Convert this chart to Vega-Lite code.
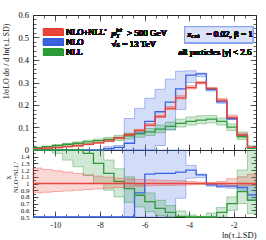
{
  "$schema": "https://vega.github.io/schema/vega-lite/v6.json",
  "width": 223,
  "height": 202,
  "autosize": {"type": "none"},
  "padding": {"left": 33, "top": 15, "right": 10, "bottom": 23},
  "config": {
    "view": {"stroke": null},
    "font": "Liberation Serif",
    "legend": {"disable": true},
    "axis": {"domain": false, "grid": false, "labelFont": "Liberation Serif", "labelColor": "#111", "tickColor": "#333", "tickWidth": 0.8, "domainColor": "#222", "domainWidth": 1, "titleFont": "Liberation Serif", "titleFontWeight": "normal", "titleColor": "#111", "labelOverlap": false, "labelBound": false, "labelFlush": false, "zindex": 1},
    "text": {"font": "Liberation Serif", "fontSize": 9, "color": "#111"}
  },
  "datasets": {
    "h": [
      {"s": "NLO", "x": -11.052, "v": -0.01, "lo": -0.03, "hi": -0.005, "r": -0.5, "rlo": -1, "rhi": -0.2},
      {"s": "NLO", "x": -10.592, "v": -0.01, "lo": -0.03, "hi": -0.005, "r": -0.5, "rlo": -1, "rhi": -0.2},
      {"s": "NLO", "x": -10.131, "v": -0.01, "lo": -0.03, "hi": -0.005, "r": -0.5, "rlo": -1, "rhi": -0.2},
      {"s": "NLO", "x": -9.671, "v": -0.01, "lo": -0.03, "hi": -0.005, "r": -0.5, "rlo": -1, "rhi": -0.2},
      {"s": "NLO", "x": -9.21, "v": -0.01, "lo": -0.03, "hi": -0.005, "r": -0.5, "rlo": -1, "rhi": -0.2},
      {"s": "NLO", "x": -8.75, "v": -0.01, "lo": -0.03, "hi": -0.005, "r": -0.5, "rlo": -1, "rhi": -0.2},
      {"s": "NLO", "x": -8.289, "v": -0.01, "lo": -0.03, "hi": -0.005, "r": -0.5, "rlo": -1, "rhi": -0.2},
      {"s": "NLO", "x": -7.829, "v": 0.006, "lo": -0.02, "hi": 0.015, "r": 0.15, "rlo": -0.5, "rhi": 0.37},
      {"s": "NLO", "x": -7.368, "v": 0.012, "lo": -0.03, "hi": 0.02, "r": 0.23, "rlo": -0.57, "rhi": 0.38},
      {"s": "NLO", "x": -6.908, "v": 0.03, "lo": -0.05, "hi": 0.14, "r": 0.44, "rlo": -0.74, "rhi": 2.06},
      {"s": "NLO", "x": -6.447, "v": 0.075, "lo": -0.05, "hi": 0.185, "r": 0.86, "rlo": -0.57, "rhi": 2.13},
      {"s": "NLO", "x": -5.987, "v": 0.127, "lo": -0.03, "hi": 0.23, "r": 1.14, "rlo": -0.27, "rhi": 2.07},
      {"s": "NLO", "x": -5.526, "v": 0.17, "lo": 0.02, "hi": 0.27, "r": 1.15, "rlo": 0.14, "rhi": 1.82},
      {"s": "NLO", "x": -5.066, "v": 0.213, "lo": 0.09, "hi": 0.315, "r": 1.15, "rlo": 0.49, "rhi": 1.7},
      {"s": "NLO", "x": -4.605, "v": 0.272, "lo": 0.18, "hi": 0.35, "r": 1.17, "rlo": 0.78, "rhi": 1.51},
      {"s": "NLO", "x": -4.145, "v": 0.333, "lo": 0.3, "hi": 0.352, "r": 1.2, "rlo": 1.08, "rhi": 1.27},
      {"s": "NLO", "x": -3.684, "v": 0.338, "lo": 0.326, "hi": 0.342, "r": 1.13, "rlo": 1.09, "rhi": 1.14},
      {"s": "NLO", "x": -3.224, "v": 0.268, "lo": 0.262, "hi": 0.273, "r": 0.98, "rlo": 0.96, "rhi": 1.0},
      {"s": "NLO", "x": -2.763, "v": 0.214, "lo": 0.208, "hi": 0.219, "r": 0.96, "rlo": 0.94, "rhi": 0.99},
      {"s": "NLO", "x": -2.303, "v": 0.139, "lo": 0.135, "hi": 0.145, "r": 0.96, "rlo": 0.93, "rhi": 1.0},
      {"s": "NLO", "x": -1.842, "v": 0.063, "lo": 0.06, "hi": 0.067, "r": 0.94, "rlo": 0.9, "rhi": 1.0},
      {"s": "NLO", "x": -1.382, "v": 0.01, "lo": 0.009, "hi": 0.012, "r": 0.83, "rlo": 0.75, "rhi": 1.0},
      {"s": "NLO", "x": -0.921, "v": 0.01, "lo": 0.009, "hi": 0.012, "r": 0.83, "rlo": 0.75, "rhi": 1.0},
      {"s": "NLL", "x": -11.052, "v": 0.01, "lo": 0.0085, "hi": 0.012, "r": 2.0, "rlo": 1.7, "rhi": 2.4},
      {"s": "NLL", "x": -10.592, "v": 0.015, "lo": 0.0128, "hi": 0.0176, "r": 1.9, "rlo": 1.6, "rhi": 2.2},
      {"s": "NLL", "x": -10.131, "v": 0.02, "lo": 0.016, "hi": 0.0231, "r": 1.8, "rlo": 1.45, "rhi": 2.1},
      {"s": "NLL", "x": -9.671, "v": 0.0255, "lo": 0.0203, "hi": 0.03, "r": 1.7, "rlo": 1.35, "rhi": 2.0},
      {"s": "NLL", "x": -9.21, "v": 0.03, "lo": 0.0238, "hi": 0.0361, "r": 1.6, "rlo": 1.25, "rhi": 1.9},
      {"s": "NLL", "x": -8.75, "v": 0.036, "lo": 0.028, "hi": 0.0425, "r": 1.45, "rlo": 1.12, "rhi": 1.7},
      {"s": "NLL", "x": -8.289, "v": 0.042, "lo": 0.032, "hi": 0.0486, "r": 1.3, "rlo": 1.0, "rhi": 1.52},
      {"s": "NLL", "x": -7.829, "v": 0.047, "lo": 0.0369, "hi": 0.0554, "r": 1.15, "rlo": 0.9, "rhi": 1.35},
      {"s": "NLL", "x": -7.368, "v": 0.055, "lo": 0.0424, "hi": 0.0647, "r": 1.03, "rlo": 0.8, "rhi": 1.22},
      {"s": "NLL", "x": -6.908, "v": 0.063, "lo": 0.049, "hi": 0.0748, "r": 0.925, "rlo": 0.72, "rhi": 1.1},
      {"s": "NLL", "x": -6.447, "v": 0.072, "lo": 0.0566, "hi": 0.0853, "r": 0.825, "rlo": 0.65, "rhi": 0.98},
      {"s": "NLL", "x": -5.987, "v": 0.081, "lo": 0.0644, "hi": 0.0955, "r": 0.73, "rlo": 0.58, "rhi": 0.86},
      {"s": "NLL", "x": -5.526, "v": 0.093, "lo": 0.077, "hi": 0.111, "r": 0.63, "rlo": 0.52, "rhi": 0.75},
      {"s": "NLL", "x": -5.066, "v": 0.105, "lo": 0.0888, "hi": 0.124, "r": 0.57, "rlo": 0.48, "rhi": 0.67},
      {"s": "NLL", "x": -4.605, "v": 0.118, "lo": 0.102, "hi": 0.137, "r": 0.51, "rlo": 0.44, "rhi": 0.59},
      {"s": "NLL", "x": -4.145, "v": 0.127, "lo": 0.111, "hi": 0.147, "r": 0.46, "rlo": 0.4, "rhi": 0.53},
      {"s": "NLL", "x": -3.684, "v": 0.133, "lo": 0.117, "hi": 0.152, "r": 0.445, "rlo": 0.39, "rhi": 0.51},
      {"s": "NLL", "x": -3.224, "v": 0.137, "lo": 0.121, "hi": 0.153, "r": 0.5, "rlo": 0.44, "rhi": 0.56},
      {"s": "NLL", "x": -2.763, "v": 0.127, "lo": 0.111, "hi": 0.142, "r": 0.57, "rlo": 0.5, "rhi": 0.64},
      {"s": "NLL", "x": -2.303, "v": 0.102, "lo": 0.087, "hi": 0.116, "r": 0.7, "rlo": 0.6, "rhi": 0.8},
      {"s": "NLL", "x": -1.842, "v": 0.059, "lo": 0.047, "hi": 0.08, "r": 0.88, "rlo": 0.7, "rhi": 1.2},
      {"s": "NLL", "x": -1.382, "v": 0.009, "lo": 0.0066, "hi": 0.0192, "r": 0.75, "rlo": 0.55, "rhi": 1.6},
      {"s": "NLL", "x": -0.921, "v": 0.009, "lo": 0.0066, "hi": 0.0192, "r": 0.75, "rlo": 0.55, "rhi": 1.6},
      {"s": "NLO+NLL'", "x": -11.052, "v": 0.005, "lo": 0.0043, "hi": 0.0062, "r": 1, "rlo": 0.86, "rhi": 1.23},
      {"s": "NLO+NLL'", "x": -10.592, "v": 0.008, "lo": 0.007, "hi": 0.0097, "r": 1, "rlo": 0.87, "rhi": 1.21},
      {"s": "NLO+NLL'", "x": -10.131, "v": 0.011, "lo": 0.0097, "hi": 0.0131, "r": 1, "rlo": 0.88, "rhi": 1.19},
      {"s": "NLO+NLL'", "x": -9.671, "v": 0.015, "lo": 0.0134, "hi": 0.0176, "r": 1, "rlo": 0.89, "rhi": 1.17},
      {"s": "NLO+NLL'", "x": -9.21, "v": 0.019, "lo": 0.0171, "hi": 0.0219, "r": 1, "rlo": 0.9, "rhi": 1.15},
      {"s": "NLO+NLL'", "x": -8.75, "v": 0.025, "lo": 0.0228, "hi": 0.0283, "r": 1, "rlo": 0.91, "rhi": 1.13},
      {"s": "NLO+NLL'", "x": -8.289, "v": 0.032, "lo": 0.0294, "hi": 0.0355, "r": 1, "rlo": 0.92, "rhi": 1.11},
      {"s": "NLO+NLL'", "x": -7.829, "v": 0.041, "lo": 0.0381, "hi": 0.0449, "r": 1, "rlo": 0.93, "rhi": 1.095},
      {"s": "NLO+NLL'", "x": -7.368, "v": 0.053, "lo": 0.0498, "hi": 0.0572, "r": 1, "rlo": 0.94, "rhi": 1.08},
      {"s": "NLO+NLL'", "x": -6.908, "v": 0.068, "lo": 0.0646, "hi": 0.0728, "r": 1, "rlo": 0.95, "rhi": 1.07},
      {"s": "NLO+NLL'", "x": -6.447, "v": 0.087, "lo": 0.0835, "hi": 0.0922, "r": 1, "rlo": 0.96, "rhi": 1.06},
      {"s": "NLO+NLL'", "x": -5.987, "v": 0.111, "lo": 0.1071, "hi": 0.1171, "r": 1, "rlo": 0.965, "rhi": 1.055},
      {"s": "NLO+NLL'", "x": -5.526, "v": 0.148, "lo": 0.1436, "hi": 0.1554, "r": 1, "rlo": 0.97, "rhi": 1.05},
      {"s": "NLO+NLL'", "x": -5.066, "v": 0.185, "lo": 0.1795, "hi": 0.1933, "r": 1, "rlo": 0.97, "rhi": 1.045},
      {"s": "NLO+NLL'", "x": -4.605, "v": 0.232, "lo": 0.2262, "hi": 0.2413, "r": 1, "rlo": 0.975, "rhi": 1.04},
      {"s": "NLO+NLL'", "x": -4.145, "v": 0.277, "lo": 0.2715, "hi": 0.2853, "r": 1, "rlo": 0.98, "rhi": 1.03},
      {"s": "NLO+NLL'", "x": -3.684, "v": 0.299, "lo": 0.2945, "hi": 0.305, "r": 1, "rlo": 0.985, "rhi": 1.02},
      {"s": "NLO+NLL'", "x": -3.224, "v": 0.274, "lo": 0.2713, "hi": 0.2781, "r": 1, "rlo": 0.99, "rhi": 1.015},
      {"s": "NLO+NLL'", "x": -2.763, "v": 0.222, "lo": 0.2176, "hi": 0.2287, "r": 1, "rlo": 0.98, "rhi": 1.03},
      {"s": "NLO+NLL'", "x": -2.303, "v": 0.145, "lo": 0.1407, "hi": 0.1552, "r": 1, "rlo": 0.97, "rhi": 1.07},
      {"s": "NLO+NLL'", "x": -1.842, "v": 0.067, "lo": 0.065, "hi": 0.0737, "r": 1, "rlo": 0.97, "rhi": 1.1},
      {"s": "NLO+NLL'", "x": -1.382, "v": 0.012, "lo": 0.0116, "hi": 0.0137, "r": 1, "rlo": 0.97, "rhi": 1.14},
      {"s": "NLO+NLL'", "x": -0.921, "v": 0.012, "lo": 0.0116, "hi": 0.0137, "r": 1, "rlo": 0.97, "rhi": 1.14}
    ]
  },
  "data": {"name": "h"},
  "resolve": {"scale": {"y": "independent"}, "axis": {"x": "independent", "y": "independent"}},
  "layer": [
    {
      "resolve": {"axis": {"x": "independent", "y": "independent"}},
      "layer": [
        {
          "transform": [{"filter": {"field": "s", "equal": "NLO"}}],
          "mark": {"type": "area", "interpolate": "step-after", "fillOpacity": 0.22, "strokeOpacity": 0.5, "strokeWidth": 0.8},
          "encoding": {
            "x": {"field": "x", "type": "quantitative", "scale": {"domain": [-11, -1], "nice": false, "zero": false, "clamp": true},
              "axis": {"orient": "bottom", "offset": -67, "values": [-10, -8, -6, -4, -2], "labels": false, "title": null, "tickSize": -6, "domain": true}},
            "y": {"field": "lo", "type": "quantitative", "scale": {"domain": [0, 0.6], "range": [135, 0], "nice": false, "zero": false, "clamp": true},
              "axis": {"orient": "left", "values": [0, 0.1, 0.2, 0.3, 0.4, 0.5, 0.6], "labels": false, "title": null, "tickSize": -6, "domain": true}},
            "y2": {"field": "hi"},
            "color": {"field": "s", "type": "nominal", "scale": {"domain": ["NLO+NLL'", "NLO", "NLL"], "range": ["#e8463c", "#3c62de", "#2e9a3b"]}},
            "stroke": {"field": "s", "type": "nominal", "scale": {"domain": ["NLO+NLL'", "NLO", "NLL"], "range": ["#e8463c", "#3c62de", "#2e9a3b"]}}
          }
        },
        {
          "transform": [{"filter": {"field": "s", "equal": "NLL"}}],
          "mark": {"type": "area", "interpolate": "step-after", "fillOpacity": 0.22, "strokeOpacity": 0.5, "strokeWidth": 0.8},
          "encoding": {
            "x": {"field": "x", "type": "quantitative",
              "axis": {"orient": "bottom", "offset": -67, "values": [-11,-10.5,-10,-9.5,-9,-8.5,-8,-7.5,-7,-6.5,-6,-5.5,-5,-4.5,-4,-3.5,-3,-2.5,-2,-1.5,-1], "labels": false, "title": null, "tickSize": -3}},
            "y": {"field": "lo", "type": "quantitative",
              "axis": {"orient": "left", "values": [0, 0.1, 0.2, 0.3, 0.4, 0.5, 0.6], "labels": false, "ticks": false,
                "title": "1/σLO dσ / d ln(τ⊥SD)", "titleFontSize": 8, "titleX": -23, "titleY": 46}},
            "y2": {"field": "hi"},
            "color": {"field": "s", "type": "nominal"},
            "stroke": {"field": "s", "type": "nominal"}
          }
        },
        {
          "transform": [{"filter": {"not": {"field": "s", "equal": "NLO+NLL'"}}}],
          "mark": {"type": "line", "interpolate": "step-after", "strokeWidth": 1.3},
          "encoding": {
            "x": {"field": "x", "type": "quantitative",
              "axis": {"orient": "top", "values": [-10, -8, -6, -4, -2], "labels": false, "title": null, "tickSize": -6, "domain": true}},
            "y": {"field": "v", "type": "quantitative",
              "axis": {"orient": "left", "values": [0,0.02,0.04,0.06,0.08,0.1,0.12,0.14,0.16,0.18,0.2,0.22,0.24,0.26,0.28,0.3,0.32,0.34,0.36,0.38,0.4,0.42,0.44,0.46,0.48,0.5,0.52,0.54,0.56,0.58,0.6], "labels": false, "title": null, "tickSize": -3}},
            "color": {"field": "s", "type": "nominal"}
          }
        },
        {
          "transform": [{"filter": {"field": "s", "equal": "NLO+NLL'"}}],
          "mark": {"type": "area", "interpolate": "step-after", "fillOpacity": 0.22, "strokeOpacity": 0.5, "strokeWidth": 0.8},
          "encoding": {
            "x": {"field": "x", "type": "quantitative",
              "axis": {"orient": "top", "values": [-11,-10.5,-10,-9.5,-9,-8.5,-8,-7.5,-7,-6.5,-6,-5.5,-5,-4.5,-4,-3.5,-3,-2.5,-2,-1.5,-1], "labels": false, "title": null, "tickSize": -3}},
            "y": {"field": "lo", "type": "quantitative",
              "axis": {"orient": "right", "values": [0, 0.1, 0.2, 0.3, 0.4, 0.5, 0.6], "labels": false, "title": null, "tickSize": -6, "domain": true}},
            "y2": {"field": "hi"},
            "color": {"field": "s", "type": "nominal"},
            "stroke": {"field": "s", "type": "nominal"}
          }
        },
        {
          "transform": [{"filter": {"field": "s", "equal": "NLO+NLL'"}}],
          "mark": {"type": "line", "interpolate": "step-after", "strokeWidth": 1.3},
          "encoding": {
            "x": {"field": "x", "type": "quantitative", "axis": null},
            "y": {"field": "v", "type": "quantitative",
              "axis": {"orient": "right", "values": [0,0.02,0.04,0.06,0.08,0.1,0.12,0.14,0.16,0.18,0.2,0.22,0.24,0.26,0.28,0.3,0.32,0.34,0.36,0.38,0.4,0.42,0.44,0.46,0.48,0.5,0.52,0.54,0.56,0.58,0.6], "labels": false, "title": null, "tickSize": -3}},
            "color": {"field": "s", "type": "nominal"}
          }
        }
      ]
    },
    {
      "resolve": {"axis": {"x": "independent", "y": "independent"}},
      "layer": [
        {
          "transform": [{"filter": {"field": "s", "equal": "NLO"}}],
          "mark": {"type": "area", "interpolate": "step-after", "fillOpacity": 0.22, "strokeOpacity": 0.5, "strokeWidth": 0.8},
          "encoding": {
            "x": {"field": "x", "type": "quantitative",
              "axis": {"orient": "bottom", "values": [-10, -8, -6, -4, -2], "labelExpr": "'' + datum.value", "ticks": false, "labelPadding": 4, "labelFontSize": 8,
                "title": "ln(τ⊥SD)", "titleFontSize": 8.5, "titleX": 223, "titleAlign": "right", "titleY": 13, "titleBaseline": "top"}},
            "y": {"field": "rlo", "type": "quantitative", "scale": {"domain": [0.5, 1.5], "range": [202, 135], "nice": false, "zero": false, "clamp": true},
              "axis": {"orient": "left", "values": [0.5, 0.6, 0.7, 0.8, 0.9, 1, 1.1, 1.2, 1.3, 1.4], "format": ".1~f", "ticks": false, "labelPadding": 4, "labelFontSize": 7,
                "title": ["X", "NLO+NLL'"], "titleFontSize": 6.5, "titleLineHeight": 7, "titleX": -22, "titleY": 162}},
            "y2": {"field": "rhi"},
            "color": {"field": "s", "type": "nominal"},
            "stroke": {"field": "s", "type": "nominal"}
          }
        },
        {
          "transform": [{"filter": {"field": "s", "equal": "NLL"}}],
          "mark": {"type": "area", "interpolate": "step-after", "fillOpacity": 0.22, "strokeOpacity": 0.5, "strokeWidth": 0.8},
          "encoding": {
            "x": {"field": "x", "type": "quantitative",
              "axis": {"orient": "bottom", "values": [-10, -8, -6, -4, -2], "labels": false, "title": null, "tickSize": -6, "domain": true}},
            "y": {"field": "rlo", "type": "quantitative",
              "axis": {"orient": "left", "values": [0.5, 0.6, 0.7, 0.8, 0.9, 1, 1.1, 1.2, 1.3, 1.4, 1.5], "labels": false, "title": null, "tickSize": -5, "domain": true}},
            "y2": {"field": "rhi"},
            "color": {"field": "s", "type": "nominal"},
            "stroke": {"field": "s", "type": "nominal"}
          }
        },
        {
          "transform": [{"filter": {"not": {"field": "s", "equal": "NLO+NLL'"}}}],
          "mark": {"type": "line", "interpolate": "step-after", "strokeWidth": 1.3},
          "encoding": {
            "x": {"field": "x", "type": "quantitative",
              "axis": {"orient": "bottom", "values": [-11,-10.5,-10,-9.5,-9,-8.5,-8,-7.5,-7,-6.5,-6,-5.5,-5,-4.5,-4,-3.5,-3,-2.5,-2,-1.5,-1], "labels": false, "title": null, "tickSize": -3}},
            "y": {"field": "r", "type": "quantitative",
              "axis": {"orient": "left", "values": [0.5,0.55,0.6,0.65,0.7,0.75,0.8,0.85,0.9,0.95,1,1.05,1.1,1.15,1.2,1.25,1.3,1.35,1.4,1.45,1.5], "labels": false, "title": null, "tickSize": -2.5}},
            "color": {"field": "s", "type": "nominal"}
          }
        },
        {
          "transform": [{"filter": {"field": "s", "equal": "NLO+NLL'"}}],
          "mark": {"type": "area", "interpolate": "step-after", "fillOpacity": 0.22, "strokeOpacity": 0.5, "strokeWidth": 0.8},
          "encoding": {
            "x": {"field": "x", "type": "quantitative",
              "axis": {"orient": "top", "offset": -135, "values": [-10, -8, -6, -4, -2], "labels": false, "title": null, "tickSize": -6}},
            "y": {"field": "rlo", "type": "quantitative",
              "axis": {"orient": "right", "values": [0.5, 0.6, 0.7, 0.8, 0.9, 1, 1.1, 1.2, 1.3, 1.4, 1.5], "labels": false, "title": null, "tickSize": -5, "domain": true}},
            "y2": {"field": "rhi"},
            "color": {"field": "s", "type": "nominal"},
            "stroke": {"field": "s", "type": "nominal"}
          }
        },
        {
          "transform": [{"filter": {"field": "s", "equal": "NLO+NLL'"}}],
          "mark": {"type": "line", "interpolate": "step-after", "strokeWidth": 1.3},
          "encoding": {
            "x": {"field": "x", "type": "quantitative",
              "axis": {"orient": "top", "offset": -135, "values": [-11,-10.5,-10,-9.5,-9,-8.5,-8,-7.5,-7,-6.5,-6,-5.5,-5,-4.5,-4,-3.5,-3,-2.5,-2,-1.5,-1], "labels": false, "title": null, "tickSize": -3}},
            "y": {"field": "r", "type": "quantitative",
              "axis": {"orient": "right", "values": [0.5,0.55,0.6,0.65,0.7,0.75,0.8,0.85,0.9,0.95,1,1.05,1.1,1.15,1.2,1.25,1.3,1.35,1.4,1.45,1.5], "labels": false, "title": null, "tickSize": -2.5}},
            "color": {"field": "s", "type": "nominal"}
          }
        }
      ]
    },
    {
      "layer": [
        {
          "mark": {"type": "rect", "fill": "#e8463c", "fillOpacity": 0.2, "stroke": "#e8463c", "strokeOpacity": 0.3, "strokeWidth": 0.7},
          "encoding": {"x": {"datum": -10.53, "type": "quantitative", "axis": null}, "x2": {"datum": -9.65},
            "y": {"datum": 0.509, "type": "quantitative", "axis": null, "scale": {"domain": [0, 0.6], "range": [135, 0], "nice": false, "zero": false}}, "y2": {"datum": 0.537}}
        },
        {
          "mark": {"type": "rule", "color": "#e8463c", "strokeWidth": 1.2},
          "encoding": {"x": {"datum": -10.53, "type": "quantitative", "axis": null}, "x2": {"datum": -9.65}, "y": {"datum": 0.523, "type": "quantitative", "axis": null}}
        },
        {
          "mark": {"type": "text", "align": "left", "baseline": "middle", "fontSize": 8.5},
          "encoding": {"x": {"datum": -9.52, "type": "quantitative", "axis": null}, "y": {"datum": 0.523, "type": "quantitative", "axis": null}, "text": {"value": "NLO+NLL'"}}
        },
        {
          "mark": {"type": "rect", "fill": "#3c62de", "fillOpacity": 0.2, "stroke": "#3c62de", "strokeOpacity": 0.3, "strokeWidth": 0.7},
          "encoding": {"x": {"datum": -10.53, "type": "quantitative", "axis": null}, "x2": {"datum": -9.65}, "y": {"datum": 0.465, "type": "quantitative", "axis": null}, "y2": {"datum": 0.493}}
        },
        {
          "mark": {"type": "rule", "color": "#3c62de", "strokeWidth": 1.2},
          "encoding": {"x": {"datum": -10.53, "type": "quantitative", "axis": null}, "x2": {"datum": -9.65}, "y": {"datum": 0.479, "type": "quantitative", "axis": null}}
        },
        {
          "mark": {"type": "text", "align": "left", "baseline": "middle", "fontSize": 8.5},
          "encoding": {"x": {"datum": -9.52, "type": "quantitative", "axis": null}, "y": {"datum": 0.479, "type": "quantitative", "axis": null}, "text": {"value": "NLO"}}
        },
        {
          "mark": {"type": "rect", "fill": "#2e9a3b", "fillOpacity": 0.2, "stroke": "#2e9a3b", "strokeOpacity": 0.3, "strokeWidth": 0.7},
          "encoding": {"x": {"datum": -10.53, "type": "quantitative", "axis": null}, "x2": {"datum": -9.65}, "y": {"datum": 0.42, "type": "quantitative", "axis": null}, "y2": {"datum": 0.448}}
        },
        {
          "mark": {"type": "rule", "color": "#2e9a3b", "strokeWidth": 1.2},
          "encoding": {"x": {"datum": -10.53, "type": "quantitative", "axis": null}, "x2": {"datum": -9.65}, "y": {"datum": 0.434, "type": "quantitative", "axis": null}}
        },
        {
          "mark": {"type": "text", "align": "left", "baseline": "middle", "fontSize": 8.5},
          "encoding": {"x": {"datum": -9.52, "type": "quantitative", "axis": null}, "y": {"datum": 0.434, "type": "quantitative", "axis": null}, "text": {"value": "NLL"}}
        },
        {
          "mark": {"type": "text", "align": "left", "baseline": "middle", "fontStyle": "italic"},
          "encoding": {"x": {"datum": -7.48, "type": "quantitative", "axis": null}, "y": {"datum": 0.518, "type": "quantitative", "axis": null}, "text": {"value": "p"}}
        },
        {
          "mark": {"type": "text", "align": "left", "baseline": "middle", "fontSize": 6, "dx": 4.5, "dy": 2.5},
          "encoding": {"x": {"datum": -7.48, "type": "quantitative", "axis": null}, "y": {"datum": 0.518, "type": "quantitative", "axis": null}, "text": {"value": "T"}}
        },
        {
          "mark": {"type": "text", "align": "left", "baseline": "middle", "fontSize": 6, "fontStyle": "italic", "dx": 4.5, "dy": -3.5},
          "encoding": {"x": {"datum": -7.48, "type": "quantitative", "axis": null}, "y": {"datum": 0.518, "type": "quantitative", "axis": null}, "text": {"value": "jet"}}
        },
        {
          "mark": {"type": "text", "align": "left", "baseline": "middle", "dx": 15.5},
          "encoding": {"x": {"datum": -7.48, "type": "quantitative", "axis": null}, "y": {"datum": 0.518, "type": "quantitative", "axis": null}, "text": {"value": "> 500 GeV"}}
        },
        {
          "mark": {"type": "text", "align": "left", "baseline": "middle"},
          "encoding": {"x": {"datum": -7.48, "type": "quantitative", "axis": null}, "y": {"datum": 0.469, "type": "quantitative", "axis": null}, "text": {"value": "√s = 13 TeV"}}
        },
        {
          "mark": {"type": "rect", "fill": "#dce3f8", "stroke": "#86a0ee", "strokeWidth": 1},
          "encoding": {"x": {"datum": -4.197, "type": "quantitative", "axis": null}, "x2": {"datum": -1.135}, "y": {"datum": 0.477, "type": "quantitative", "axis": null}, "y2": {"datum": 0.548}}
        },
        {
          "mark": {"type": "text", "align": "left", "baseline": "middle", "fontStyle": "italic"},
          "encoding": {"x": {"datum": -4.07, "type": "quantitative", "axis": null}, "y": {"datum": 0.514, "type": "quantitative", "axis": null}, "text": {"value": "z"}}
        },
        {
          "mark": {"type": "text", "align": "left", "baseline": "middle", "fontSize": 6.5, "dx": 4, "dy": 2},
          "encoding": {"x": {"datum": -4.07, "type": "quantitative", "axis": null}, "y": {"datum": 0.514, "type": "quantitative", "axis": null}, "text": {"value": "cut"}}
        },
        {
          "mark": {"type": "text", "align": "left", "baseline": "middle", "dx": 19},
          "encoding": {"x": {"datum": -4.07, "type": "quantitative", "axis": null}, "y": {"datum": 0.514, "type": "quantitative", "axis": null}, "text": {"value": "= 0.02, β = 1"}}
        },
        {
          "mark": {"type": "text", "align": "right", "baseline": "middle"},
          "encoding": {"x": {"datum": -1.2, "type": "quantitative", "axis": null}, "y": {"datum": 0.437, "type": "quantitative", "axis": null}, "text": {"value": "all particles |y| < 2.6"}}
        },
        {
          "data": {"values": [{"lab": 0}, {"lab": 0.1}, {"lab": 0.2}, {"lab": 0.3}, {"lab": 0.4}, {"lab": 0.5}, {"lab": 0.6}]},
          "mark": {"type": "text", "align": "right", "baseline": "middle", "fontSize": 8.5, "dx": -4, "color": "#000"},
          "encoding": {
            "x": {"datum": -11, "type": "quantitative", "axis": null},
            "y": {"field": "lab", "type": "quantitative", "axis": null},
            "text": {"field": "lab", "type": "quantitative", "format": ".1~f"}
          }
        }
      ]
    }
  ]
}
